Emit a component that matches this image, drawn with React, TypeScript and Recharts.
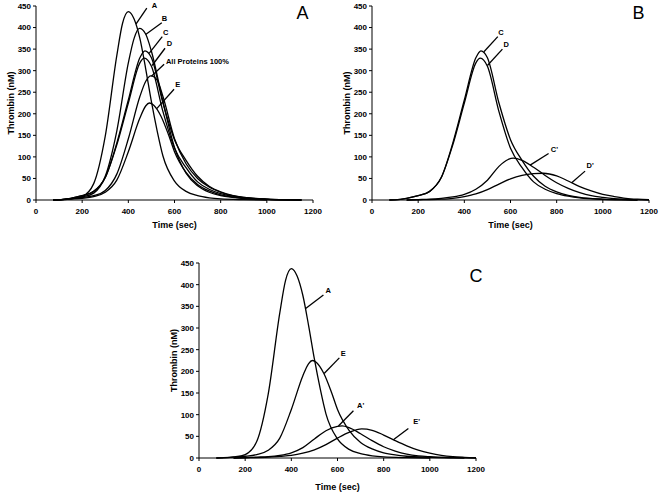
import React from "react";
import { LineChart, Line, XAxis, YAxis, ReferenceLine, ReferenceDot } from "recharts";

// thrombin generation curves, [time (sec), thrombin (nM)]
type Pt = [number, number];

const timeTicks = [0, 200, 400, 600, 800, 1000, 1200];
const thrombinTicks = [0, 50, 100, 150, 200, 250, 300, 350, 400, 450];

const curveA: Pt[] = [[75, 0], [100, 0.5], [150, 2.5], [200, 8], [250, 38], [300, 148], [350, 335], [375, 410], [400, 437], [425, 420], [450, 375], [475, 305], [500, 228], [525, 160], [550, 102], [600, 44], [650, 20], [700, 10], [750, 5], [800, 2.5], [900, 0.8], [1000, 0]];
const curveB: Pt[] = [[75, 0], [100, 0.5], [150, 3], [200, 7], [250, 16], [300, 55], [350, 160], [400, 318], [425, 375], [448, 398], [475, 385], [500, 345], [550, 228], [600, 122], [650, 62], [700, 33], [750, 18], [800, 10], [850, 6], [900, 3.5], [1000, 1], [1100, 0]];
const curveC: Pt[] = [[75, 0], [100, 0.5], [150, 4], [200, 10], [250, 20], [300, 52], [350, 132], [400, 232], [450, 330], [472, 346], [500, 330], [550, 225], [600, 140], [650, 92], [700, 55], [750, 32], [800, 19], [850, 11], [900, 6], [1000, 2], [1100, 0.5], [1150, 0]];
const curveD: Pt[] = [[75, 0], [100, 0.5], [150, 4], [200, 10], [250, 20], [300, 52], [350, 128], [400, 225], [450, 318], [469, 329], [500, 310], [550, 205], [600, 120], [650, 75], [700, 42], [750, 25], [800, 15], [850, 9], [900, 5], [1000, 1.5], [1100, 0.3], [1150, 0]];
const curveAll: Pt[] = [[75, 0], [100, 0.5], [150, 3], [200, 6], [250, 10], [300, 22], [350, 60], [400, 142], [450, 240], [475, 275], [498, 288], [525, 278], [550, 240], [600, 142], [650, 84], [700, 50], [750, 30], [800, 18], [850, 10], [900, 6], [1000, 2], [1100, 0.5], [1150, 0]];
const curveE: Pt[] = [[75, 0], [100, 0.5], [150, 2], [200, 4], [250, 8], [300, 18], [350, 46], [400, 112], [450, 190], [475, 218], [491, 225], [510, 220], [541, 195], [575, 150], [600, 112], [650, 64], [700, 36], [750, 21], [800, 12], [850, 7], [900, 4], [1000, 1.5], [1100, 0.4], [1150, 0]];
const curveCp: Pt[] = [[150, 0], [200, 1], [250, 2], [300, 4], [350, 7], [400, 13], [450, 25], [500, 46], [550, 78], [590, 94], [612, 97], [650, 92], [700, 76], [750, 57], [800, 40], [850, 27], [900, 17], [950, 10], [1000, 6], [1050, 3], [1100, 1.5], [1200, 0]];
const curveDp: Pt[] = [[150, 0], [200, 0.5], [300, 2], [350, 4], [400, 8], [450, 14], [500, 24], [550, 37], [600, 49], [650, 57], [700, 61], [742, 62], [800, 56], [850, 44], [900, 31], [950, 21], [1000, 13], [1050, 8], [1100, 4], [1150, 2], [1200, 1]];
const curveAp: Pt[] = [[150, 0], [200, 1], [250, 2], [300, 3], [350, 6], [400, 12], [450, 24], [500, 44], [550, 63], [600, 73], [620, 74], [650, 70], [700, 56], [750, 40], [800, 26], [850, 16], [900, 9], [950, 5], [1000, 3], [1100, 1], [1200, 0]];
const curveEp: Pt[] = [[150, 0], [200, 0.5], [300, 2], [350, 4], [400, 6], [450, 11], [500, 19], [550, 31], [600, 46], [650, 59], [705, 67], [750, 64], [800, 53], [850, 40], [900, 28], [950, 18], [1000, 11], [1050, 6], [1100, 3], [1150, 1.5], [1200, 0.5]];

// curve labels: text position and leader line, in data units
interface Note { text: string; at: Pt; from: Pt; to: Pt; anchor?: "start" | "middle" }

const notesA: Note[] = [
  { text: "A", at: [513, 452], from: [480, 445], to: [433, 408] },
  { text: "B", at: [556, 421], from: [545, 411], to: [475, 384] },
  { text: "C", at: [562, 389], from: [547, 379], to: [490, 340] },
  { text: "D", at: [578, 362], from: [559, 352], to: [503, 312] },
  { text: "All Proteins 100%", at: [563, 322], from: [555, 315], to: [500, 287], anchor: "start" },
  { text: "E", at: [614, 267], from: [598, 257], to: [523, 212] },
];
const notesB: Note[] = [
  { text: "C", at: [559, 388], from: [545, 379], to: [485, 344] },
  { text: "D", at: [581, 360], from: [565, 350], to: [500, 312] },
  { text: "C'", at: [790, 118], from: [765, 108], to: [685, 81] },
  { text: "D'", at: [945, 79], from: [923, 67], to: [865, 40] },
];
const notesC: Note[] = [
  { text: "A", at: [560, 386], from: [539, 376], to: [462, 345] },
  { text: "E", at: [625, 242], from: [608, 231], to: [542, 195] },
  { text: "A'", at: [700, 122], from: [669, 109], to: [604, 74] },
  { text: "E'", at: [943, 84], from: [907, 68], to: [842, 42] },
];

const FONT = "'Liberation Sans', Arial, Helvetica, sans-serif";

const rows = (c: Pt[]) => c.map(([t, v]) => ({ t, v }));

interface PanelProps {
  letter: string;
  letterAt: Pt;
  curves: Pt[][];
  notes: Note[];
  left: number;
  top: number;
  width: number;
  height: number;
  axisHeight: number;
  titleGap: number;
}

function Panel({ letter, letterAt, curves, notes, left, top, width, height, axisHeight, titleGap }: PanelProps) {
  const yTitle = (p: any) => {
    const vb = p.viewBox;
    const cx = vb.x + vb.width - 25;
    const cy = vb.y + vb.height / 2;
    return (
      <text x={cx} y={cy} transform={`rotate(-90 ${cx} ${cy})`} textAnchor="middle" dominantBaseline="central"
        fontFamily={FONT} fontSize={9} fontWeight="bold" fill="#000">Thrombin (nM)</text>
    );
  };
  const xTitle = (p: any) => {
    const vb = p.viewBox;
    return (
      <text x={vb.x + vb.width / 2} y={vb.y + titleGap} textAnchor="middle" dominantBaseline="central"
        fontFamily={FONT} fontSize={9} fontWeight="bold" fill="#000">Time (sec)</text>
    );
  };
  const tick = { fontSize: 8, fontWeight: "bold", fill: "#000", fontFamily: FONT };

  return (
    <div style={{ position: "absolute", left, top }}>
      <LineChart width={width} height={height} margin={{ top: 6, right: width - 313, left: 0, bottom: 0 }}>
        <XAxis dataKey="t" type="number" domain={[0, 1200]} ticks={timeTicks} height={axisHeight}
          tick={tick} tickSize={3} tickMargin={5} axisLine={{ stroke: "#000" }} tickLine={{ stroke: "#000" }}
          label={{ content: xTitle }} />
        <YAxis type="number" domain={[0, 450]} ticks={thrombinTicks} width={36} interval={0}
          tick={tick} tickSize={3} tickMargin={2} axisLine={{ stroke: "#000" }} tickLine={{ stroke: "#000" }}
          label={{ content: yTitle }} />
        {curves.map((c, i) => (
          <Line key={i} data={rows(c)} dataKey="v" type="monotone" stroke="#000" strokeWidth={1.3}
            dot={false} activeDot={false} isAnimationActive={false} />
        ))}
        {notes.map((n) => (
          <ReferenceLine key={"l" + n.text} segment={[{ x: n.from[0], y: n.from[1] }, { x: n.to[0], y: n.to[1] }]}
            stroke="#000" strokeWidth={1.3} ifOverflow="visible" />
        ))}
        {notes.map((n) => (
          <ReferenceDot key={"t" + n.text} x={n.at[0]} y={n.at[1]} r={0} ifOverflow="visible"
            shape={(p: any) => (
              <text x={p.cx} y={p.cy} textAnchor={n.anchor ?? "middle"} dominantBaseline="central"
                fontFamily={FONT} fontSize={7.5} fontWeight="bold" fill="#000">{n.text}</text>
            )} />
        ))}
        <ReferenceDot x={letterAt[0]} y={letterAt[1]} r={0} ifOverflow="visible"
          shape={(p: any) => (
            <text x={p.cx} y={p.cy} textAnchor="middle" dominantBaseline="central"
              fontFamily={FONT} fontSize={18} fill="#000">{letter}</text>
          )} />
      </LineChart>
    </div>
  );
}

export default function App() {
  return (
    <div style={{ position: "absolute", left: 0, top: 0, width: 661, height: 492, background: "#fff", overflow: "hidden" }}>
      <Panel letter="A" letterAt={[1155, 434]} curves={[curveA, curveB, curveC, curveD, curveAll, curveE]} notes={notesA}
        left={0} top={0} width={330} height={240} axisHeight={40} titleGap={25} />
      <Panel letter="B" letterAt={[1155, 434]} curves={[curveC, curveD, curveCp, curveDp]} notes={notesB}
        left={336} top={0} width={325} height={240} axisHeight={40} titleGap={25} />
      <Panel letter="C" letterAt={[1200, 421]} curves={[curveA, curveE, curveAp, curveEp]} notes={notesC}
        left={163} top={257} width={330} height={235} axisHeight={34} titleGap={29} />
    </div>
  );
}
